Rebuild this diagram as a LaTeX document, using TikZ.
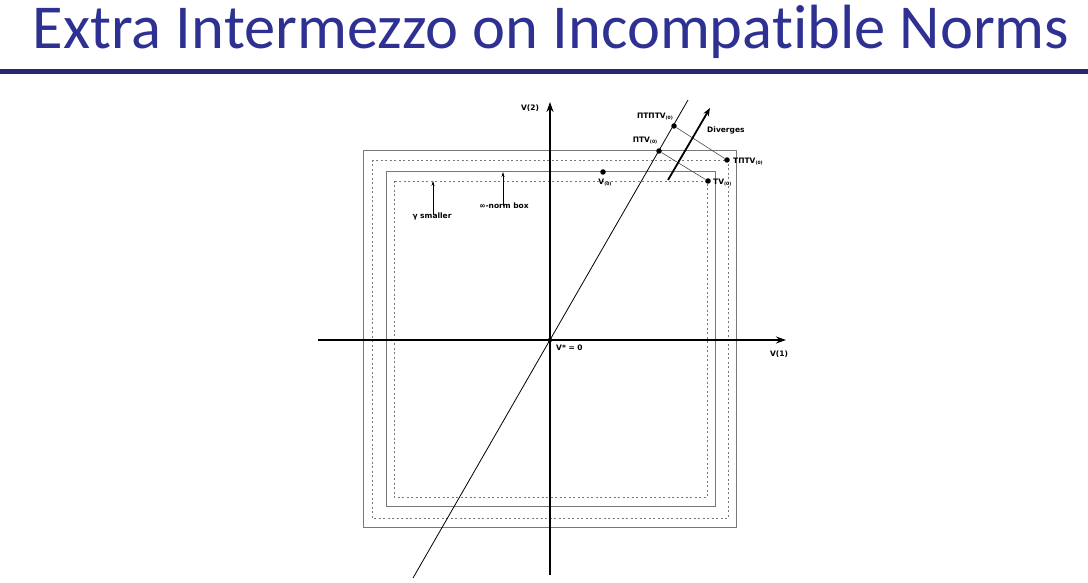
\documentclass[tikz,border=0pt]{standalone}
\usepackage{fontspec}
\usepackage{tikz}
\usetikzlibrary{arrows.meta,positioning,calc}
\setmainfont{Carlito}[Ligatures=NoCommon]
\newfontfamily\lblfont{DejaVu Sans}
\definecolor{titleblue}{RGB}{46,49,146}
\definecolor{rulenavy}{RGB}{40,40,110}
\definecolor{boxgray}{RGB}{120,120,120}
\newcommand{\zidx}{\raisebox{-1pt}{\fontsize{4.5}{5}\selectfont(0)}}

\begin{document}
\begin{tikzpicture}[x=1pt,y=-1pt,
  axis/.style={-{Stealth[length=10pt,width=7pt]},line width=1.4pt},
  solidbox/.style={draw=boxgray,line width=1pt},
  dotbox/.style={draw=boxgray,line width=0.7pt,dash pattern=on 2pt off 2.5pt},
  pt/.style={circle,fill=black,inner sep=0pt,minimum size=5.5pt},
  lbl/.style={font=\lblfont\bfseries\fontsize{7.5}{9}\selectfont,inner sep=0pt},
  thin/.style={draw=black!70,line width=0.6pt},
  small/.style={-{Stealth[length=5pt,width=3pt]},line width=0.7pt}
]
\useasboundingbox (0,0) rectangle (1088,583);

% title and rule
\node[anchor=base,text=titleblue,font=\fontsize{62.5}{66}\selectfont,inner sep=0pt]
  (title) at (551,49) {Extra Intermezzo on Incompatible Norms};
\fill[rulenavy] (0,69) rectangle (1088,74);

% boxes round the origin
\draw[solidbox] (363,151) rectangle (736,527);
\draw[dotbox]   (372,160) rectangle (728,518);
\draw[solidbox] (386,172) rectangle (715,506);
\draw[dotbox]   (394,181) rectangle (707,497);

% axes
\coordinate (o)  at (550,340);
\coordinate (xl) at (318,340);
\coordinate (xr) at (786,340);
\coordinate (yb) at (550,575);
\coordinate (yt) at (550,102);
\draw[axis] (xl) -- (xr);
\draw[axis] (yb) -- (yt);
\node[lbl] (v1) at (779,354) {V(1)};
\node[lbl] (v2) at (530,108) {V(2)};

% line through the origin
\coordinate (lb) at (413,578);
\coordinate (lt) at (688,100);
\draw[line width=0.8pt] (lb) -- (lt);
\node[pt,minimum size=4.5pt] (zero) at (o) {};
\node[lbl,anchor=west] (vstar) at (556,348) {V* = 0};

% iterates
\node[pt] (v0)     at (603,172) {};
\node[pt] (tv)     at (708,181) {};
\node[pt] (ptv)    at (659,151) {};
\node[pt] (tptv)   at (727,160) {};
\node[pt] (ptptv)  at (674,126) {};
\draw[thin] (ptv) -- (tv);
\draw[thin] (ptptv) -- (tptv);

\node[lbl] (v0l)    at (605,183) {V\zidx};
\node[lbl,anchor=west] (tvl)   at (713,183) {TV\zidx};
\node[lbl] (ptvl)   at (645,141) {ΠTV\zidx};
\node[lbl,anchor=west] (tptvl) at (733,162) {TΠTV\zidx};
\node[lbl] (ptptvl) at (655,117) {ΠTΠTV\zidx};

% divergence
\coordinate (divs) at (668,180);
\coordinate (dive) at (710,108);
\draw[-{Stealth[length=8pt,width=6pt]},line width=1.8pt] (divs) -- (dive);
\node[lbl,anchor=west] (divl) at (707,130) {Diverges};

% box notes
\node[lbl] (gam) at (432,216) {γ smaller};
\node[lbl] (inf) at (504,206) {∞-norm box};
\coordinate (gamtip) at (433,181);
\coordinate (inftip) at (503,172);
\draw[small] ([yshift=-3pt]gam.north -| gamtip) -- (gamtip);
\draw[small] ([yshift=-3pt]inf.north -| inftip) -- (inftip);
\end{tikzpicture}
\end{document}
